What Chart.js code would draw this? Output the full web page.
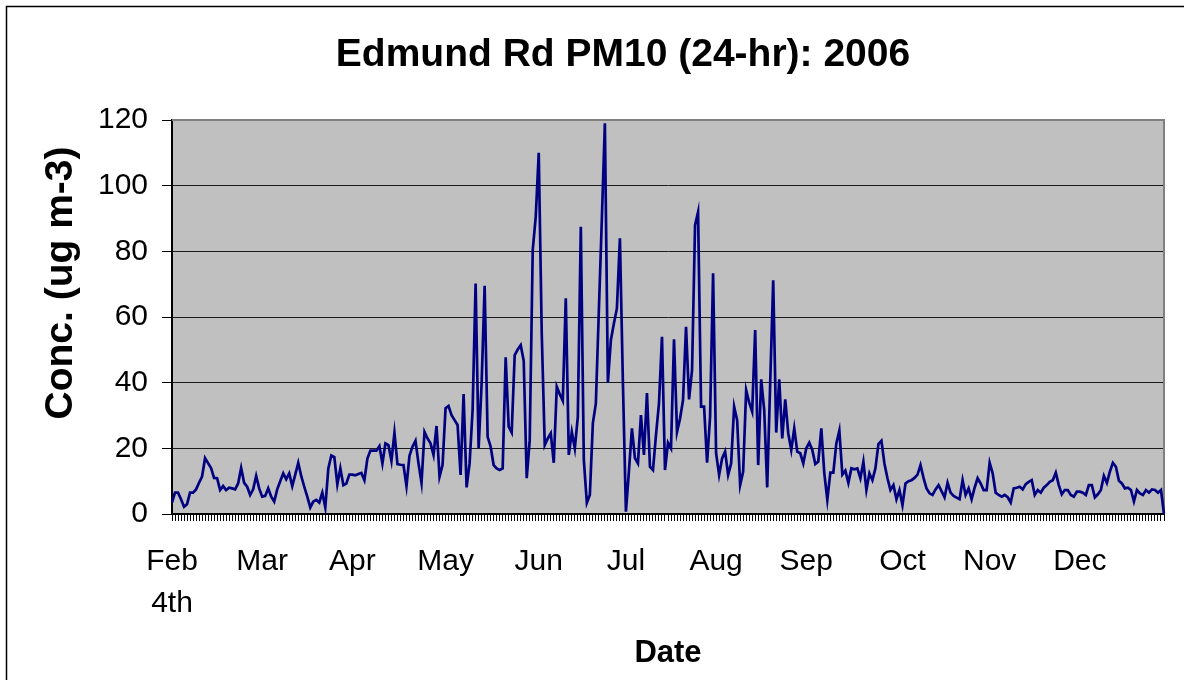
<!DOCTYPE html>
<html>
<head>
<meta charset="utf-8">
<script src="https://cdn.jsdelivr.net/npm/chart.js@4.4.1/dist/chart.umd.min.js"></script>
<style>
  html, body { margin: 0; padding: 0; background: #fff; }
</style>
</head>
<body>
<canvas id="myChart" width="1184" height="680"></canvas>
<script>
'use strict';

// daily PM10 (ug m-3), Feb 4th to Dec 31st
let febValues = [3.5, 6.5, 6.5, 4.5, 2.2, 3, 6.5, 6.5, 7.5, 9.5, 11.4, 17, 15.5, 14, 11, 10.9, 7.3, 8.5, 7.3, 8, 7.8, 7.5, 9.3, 14, 9.5];
let marValues = [8.3, 5.8, 7.5, 11.6, 7.8, 5.3, 5.5, 7.8, 5.3, 3.8, 7.5, 10, 12.4, 10.6, 12.4, 8.5, 12, 15.6, 11.5, 8.3, 5.3, 2, 3.8, 4.3, 3.5, 6.5, 2, 13.9, 17.8, 17.3, 9];
let aprValues = [13.9, 8.8, 9.3, 12, 12, 11.8, 12.2, 12.5, 10.3, 16.9, 19.3, 19.3, 19.3, 20.7, 15.4, 21.5, 21, 16.2, 24.8, 15.2, 15, 14.9, 8.5, 17.7, 20.5, 22.3, 15.4, 9.5, 25, 23];
let mayValues = [21.5, 18, 26.8, 11.4, 14.9, 32.2, 32.9, 30.1, 28.6, 27.1, 11.9, 36.5, 8.1, 15.4, 31.7, 70.2, 20, 39.8, 69.5, 23.5, 20.5, 14.9, 13.9, 13.4, 13.9, 47.7, 26.6, 24.8, 48.4, 50.1, 51.4];
let junValues = [46.7, 10.9, 22.5, 80.4, 90.5, 110, 55, 21, 23, 24.6, 15.6, 38.8, 36.5, 34.5, 65.7, 18, 25, 20, 29.6, 87.5, 16.4, 3.4, 5.8, 27.6, 33.7, 62, 90, 119, 40, 53];
let julValues = [58, 62.6, 84, 40, 0.7, 13, 26.1, 17, 15.4, 30.1, 18, 36.8, 14.4, 13.4, 24, 33.7, 54, 13.4, 21.7, 20, 53.2, 25, 29, 34.7, 57, 34.9, 43.8, 88, 92, 32.7, 32.7];
let augValues = [15.6, 29.6, 73.3, 18.5, 11.9, 16.9, 19, 11.9, 15.4, 32.7, 28.6, 8.8, 12.9, 37.7, 34, 31.2, 56, 14.9, 41, 31.7, 8.1, 40, 71.2, 24.8, 41, 23, 34.9, 24.6, 19.5, 26.1, 19];
let sepValues = [18.5, 15.4, 20, 21.7, 19.5, 15.2, 16, 26.1, 12.4, 4.3, 12.6, 12.6, 21.5, 25.4, 12, 13.2, 9.5, 13.9, 13.6, 13.9, 10.9, 15.9, 7.3, 12.4, 10.3, 13.9, 21.3, 22.3, 15.4, 10.9];
let octValues = [7.3, 8.8, 4.5, 7.3, 2.7, 9.3, 10, 10.3, 11, 12, 14.9, 11, 7.8, 6.3, 5.8, 7.5, 8.8, 7, 5.1, 9.5, 6.5, 5.5, 5, 4.5, 10.3, 5.8, 7.8, 4.5, 8, 10.9, 9.3];
let novValues = [7.3, 7.3, 15.6, 12.4, 6.5, 5.8, 5.3, 5.8, 5.1, 3.5, 7.8, 8, 8.3, 7.5, 9.1, 9.8, 10.3, 5.8, 7.3, 6.5, 8, 8.8, 9.8, 10.3, 12.6, 8.8, 6, 7.3, 7.3, 5.8];
let decValues = [5.3, 6.8, 6.8, 6.5, 5.8, 8.8, 8.8, 5.1, 6, 7.3, 11.6, 9.5, 12.9, 15.6, 14.4, 10.1, 9.3, 7.8, 8, 7.3, 3.8, 7.3, 6.3, 5.8, 7.3, 6.5, 7.5, 7.3, 6.5, 7.3, 0];

// category labels shown under the axis, and the day they sit on
let monthNames = [['Feb', '4th'], 'Mar', 'Apr', 'May', 'Jun', 'Jul', 'Aug', 'Sep', 'Oct', 'Nov', 'Dec'];
let monthLabelDay = [0, 30, 60, 91, 122, 151, 181, 211, 243, 272, 302];
let yTicks = [0, 20, 40, 60, 80, 100, 120];

let allValues = [].concat(febValues, marValues, aprValues, mayValues, junValues, julValues,
  augValues, sepValues, octValues, novValues, decValues);

let dayLabels = [];
for (let i = 0; i < allValues.length; i++) {
  dayLabels.push('');
}
for (let j = 0; j < monthNames.length; j++) {
  dayLabels[monthLabelDay[j]] = monthNames[j];
}

const fontName = '"Liberation Sans", Arial, sans-serif';

// background, frame, plot border and the free text
const chartDecor = {
  id: 'chartDecor',
  beforeDraw(chart) {
    let ctx = chart.ctx;
    let area = chart.chartArea;
    ctx.save();
    ctx.fillStyle = '#ffffff';
    ctx.fillRect(0, 0, chart.width, chart.height);
    ctx.strokeStyle = '#000000';
    ctx.lineWidth = 1.5;
    ctx.beginPath();
    ctx.moveTo(6.5, chart.height + 5);
    ctx.lineTo(6.5, 6.5);
    ctx.lineTo(chart.width + 5, 6.5);
    ctx.stroke();
    ctx.fillStyle = '#c0c0c0';
    ctx.fillRect(area.left, area.top, area.right - area.left, area.bottom - area.top);
    ctx.restore();
  },
  beforeDatasetsDraw(chart) {
    let ctx = chart.ctx;
    let area = chart.chartArea;
    ctx.save();
    ctx.strokeStyle = '#808080';
    ctx.lineWidth = 2;
    ctx.beginPath();
    ctx.moveTo(area.left, area.top);
    ctx.lineTo(area.right, area.top);
    ctx.lineTo(area.right, area.bottom);
    ctx.stroke();
    ctx.restore();
  },
  afterDraw(chart) {
    let ctx = chart.ctx;
    ctx.save();
    ctx.fillStyle = '#000000';
    ctx.textAlign = 'center';
    ctx.textBaseline = 'middle';
    ctx.font = 'bold 39px ' + fontName;
    ctx.fillText('Edmund Rd PM10 (24-hr): 2006', 623, 55);
    ctx.translate(61, 283);
    ctx.rotate(-Math.PI / 2);
    ctx.font = 'bold 39px ' + fontName;
    ctx.fillText('Conc. (ug m-3)', 0, 0);
    ctx.restore();
  }
};

let ctx = document.getElementById('myChart').getContext('2d');
let chart = new Chart(ctx, {
  type: 'line',
  data: {
    labels: dayLabels,
    datasets: [{
      label: 'PM10',
      data: allValues,
      borderColor: '#000080',
      borderWidth: 2.7,
      pointRadius: 0,
      tension: 0,
      fill: false
    }]
  },
  options: {
    responsive: false,
    animation: false,
    devicePixelRatio: 1,
    layout: { padding: { left: 10, right: 16, top: 120, bottom: 8 } },
    plugins: {
      legend: { display: false },
      title: { display: false },
      tooltip: { enabled: false }
    },
    scales: {
      x: {
        type: 'category',
        offset: false,
        grid: { drawOnChartArea: false, drawTicks: true, tickLength: 7, color: '#000000', lineWidth: 1, offset: false },
        border: { display: true, color: '#000000', width: 2 },
        ticks: {
          autoSkip: false,
          maxRotation: 0,
          minRotation: 0,
          padding: 20,
          color: '#000000',
          font: { family: fontName, size: 30, lineHeight: 1.4 }
        },
        title: {
          display: true,
          text: 'Date',
          color: '#000000',
          font: { family: fontName, size: 31, weight: 'bold' },
          padding: { top: 0, bottom: 0 }
        },
        afterFit: function (scale) { scale.height = 158; }
      },
      y: {
        min: yTicks[0],
        max: yTicks[yTicks.length - 1],
        afterBuildTicks: function (scale) {
          scale.ticks = yTicks.map(v => ({ value: v }));
        },
        ticks: { padding: 14, color: '#000000', font: { family: fontName, size: 30 } },
        grid: {
          color: c => (c.tick && c.tick.value === 120) ? '#808080' : '#1a1a1a',
          lineWidth: 1,
          tickLength: 10,
          tickColor: '#000000'
        },
        border: { color: '#000000', width: 2 },
        afterFit: function (scale) { scale.width = 162; }
      }
    }
  },
  plugins: [chartDecor]
});
</script>
</body>
</html>
